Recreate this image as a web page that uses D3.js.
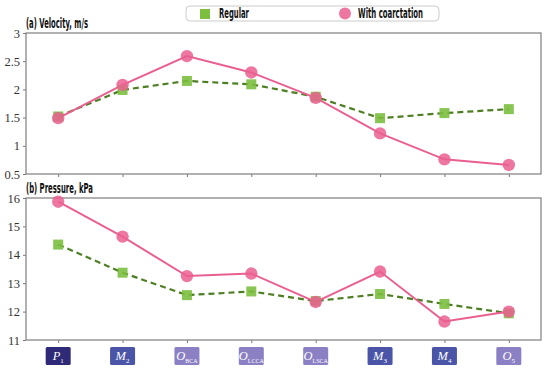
<!DOCTYPE html>
<html lang="en">
<head>
<meta charset="utf-8">
<script src="https://d3js.org/d3.v7.min.js"></script>
<style>
  body { margin: 0; background: #fff; }
  .title, .legend text { font-family: "DejaVu Sans", sans-serif; font-weight: bold; font-size: 13.5px; fill: #111; }
  .tick line { stroke: #777; }
  .domain { display: none; }
</style>
</head>
<body>
<script>
// categories along x
var categories = ["P1", "M2", "OBCA", "OLCCA", "OLSCA", "M3", "M4", "O5"];
var catMain = ["P", "M", "O", "O", "O", "M", "M", "O"];
var catSub = ["1", "2", "BCA", "LCCA", "LSCA", "3", "4", "5"];
var catColor = ["#2e2a78", "#4a55a8", "#8b80c4", "#8b80c4", "#8b80c4", "#4a55a8", "#4a55a8", "#8b80c4"];

// (a) velocity, m/s
var velRegular = [1.52, 1.99, 2.15, 2.09, 1.87, 1.49, 1.58, 1.65];
var velCoarct  = [1.49, 2.08, 2.59, 2.30, 1.85, 1.22, 0.76, 0.66];
var velTicks = [0.5, 1, 1.5, 2, 2.5, 3];

// (b) pressure, kPa
var presRegular = [14.36, 13.37, 12.58, 12.71, 12.37, 12.62, 12.27, 11.94];
var presCoarct  = [15.87, 14.64, 13.25, 13.34, 12.34, 13.41, 11.65, 12.0];
var presTicks = [11, 12, 13, 14, 15, 16];

var W = 550, H = 372;
var left = 26, right = 541;
var green = "#7cbf3f", greenLine = "#4d7f22", pink = "#ea5f91";
var serif = "'Liberation Serif', 'Times New Roman', Times, serif";

var svg = d3.select("body").append("svg").attr("width", W).attr("height", H);

var x = d3.scalePoint().domain(categories).range([left, right]).padding(0.5);

function panel(top, bottom, domain, ticks, reg, coa, title, titleW) {
  var y = d3.scaleLinear().domain(domain).range([bottom, top]);
  var g = svg.append("g");

  var ya = g.append("g").attr("transform", "translate(" + left + ",0)")
    .call(d3.axisLeft(y).tickValues(ticks).tickSize(3).tickPadding(3).tickFormat(d3.format("")));
  ya.attr("font-family", null);
  ya.selectAll("text").style("font-family", serif).style("font-size", "12.5px").attr("fill", "#333");
  g.append("g").attr("transform", "translate(0," + bottom + ")")
    .call(d3.axisBottom(x).tickSize(3).tickFormat(""));

  g.append("rect").attr("x", left).attr("y", top)
    .attr("width", right - left).attr("height", bottom - top)
    .attr("fill", "none").attr("stroke", "#888").attr("stroke-width", 1.3);

  g.append("text").attr("class", "title").attr("x", left).attr("y", top - 5)
    .attr("textLength", titleW).attr("lengthAdjust", "spacingAndGlyphs").text(title);

  var line = d3.line().x(function(d, i){ return x(categories[i]); }).y(function(d){ return y(d); });

  g.append("path").datum(reg).attr("d", line).attr("fill", "none")
    .attr("stroke", greenLine).attr("stroke-width", 2.2).attr("stroke-dasharray", "6,4");
  g.append("path").datum(coa).attr("d", line).attr("fill", "none")
    .attr("stroke", pink).attr("stroke-width", 2);

  g.selectAll(".sq").data(reg).enter().append("rect")
    .attr("x", function(d, i){ return x(categories[i]) - 5; })
    .attr("y", function(d){ return y(d) - 5; })
    .attr("width", 10).attr("height", 10)
    .attr("fill", green).attr("fill-opacity", 0.9);
  g.selectAll(".ci").data(coa).enter().append("circle")
    .attr("cx", function(d, i){ return x(categories[i]); })
    .attr("cy", function(d){ return y(d); })
    .attr("r", 6.2)
    .attr("fill", pink).attr("fill-opacity", 0.85);
}

panel(33, 174, [0.5, 3], velTicks, velRegular, velCoarct, "(a) Velocity, m/s", 62);
panel(198, 340, [11, 16], presTicks, presRegular, presCoarct, "(b) Pressure, kPa", 67);

// category label boxes
var lab = svg.selectAll(".lab").data(categories).enter().append("g")
  .attr("transform", function(d){ return "translate(" + x(d) + ",356)"; });
lab.append("rect").attr("x", -12.5).attr("y", -9).attr("width", 25).attr("height", 18).attr("rx", 1.5)
  .attr("fill", function(d, i){ return catColor[i]; });
var lt = lab.append("text").attr("text-anchor", "middle").attr("y", 4)
  .style("font-family", serif).attr("fill", "#fff");
lt.append("tspan").attr("font-style", "italic").attr("font-size", 12.5).text(function(d, i){ return catMain[i]; });
lt.append("tspan").attr("font-size", function(d, i){ return catSub[i].length > 1 ? 6 : 7; })
  .attr("dy", 2.5).text(function(d, i){ return catSub[i]; });

// legend
var lg = svg.append("g").attr("class", "legend");
lg.append("rect").attr("x", 186).attr("y", 6).attr("width", 253).attr("height", 15).attr("rx", 4)
  .attr("fill", "#fff").attr("stroke", "#ccc");
lg.append("rect").attr("x", 200).attr("y", 9).attr("width", 10).attr("height", 10).attr("fill", green);
lg.append("text").attr("x", 219).attr("y", 18).attr("textLength", 30)
  .attr("lengthAdjust", "spacingAndGlyphs").text("Regular");
lg.append("circle").attr("cx", 345).attr("cy", 13.5).attr("r", 6).attr("fill", pink).attr("fill-opacity", 0.85);
lg.append("text").attr("x", 358).attr("y", 18).attr("textLength", 65)
  .attr("lengthAdjust", "spacingAndGlyphs").text("With coarctation");
</script>
</body>
</html>
